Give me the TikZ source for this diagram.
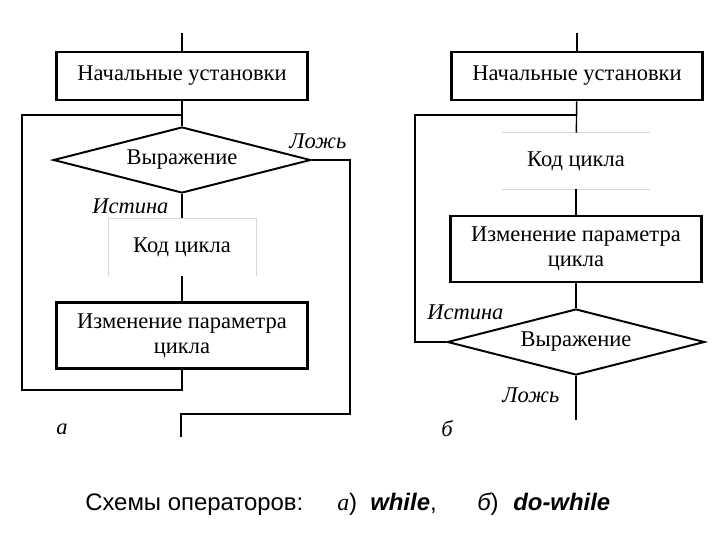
\documentclass[tikz,border=0pt]{standalone}
\usepackage{fontspec}
\setmainfont{Liberation Serif}
\setsansfont{Liberation Sans}
\definecolor{scangray}{RGB}{215, 215, 215}
\usetikzlibrary{shapes.geometric, positioning}

\begin{document}
\begin{tikzpicture}[x=0.025cm, y=-0.025cm,
  box/.style={draw, line width=2pt, minimum width=6.27cm, inner sep=0pt, align=center, font={\fontsize{16}{18}\selectfont}},
  cond/.style={draw, diamond, line width=1.4pt, minimum width=6.43cm, minimum height=1.65cm, aspect=3.9, inner sep=0pt, font={\fontsize{16}{18}\selectfont}},
  code/.style={inner sep=0pt, minimum width=3.68cm, align=center, font={\fontsize{16}{18}\selectfont}},
  lbl/.style={inner sep=0pt, font={\fontsize{16}{18}\selectfont\itshape}},
  capt/.style={inner sep=0pt, font={\fontsize{17}{20}\selectfont\sffamily}},
  flow/.style={line width=1pt}]
  \useasboundingbox (0,0) rectangle (720,540);

  % a) while
  \coordinate (topA) at (182,33);
  \node[box, minimum height=1.2cm] (initA) at (182,76) {Начальные установки};
  \coordinate (joinA) at (182,115);
  \node[cond] (condA) at (182,160) {Выражение};
  \node[lbl, anchor=west] (falseA) at (289,141) {Ложь};
  \node[lbl, anchor=west] (trueA) at (92,206) {Истина};
  \node[code, minimum height=1.43cm] (codeA) at (182,247) {Код цикла};
  \node[box, minimum height=1.63cm] (changeA) at (182,335.5) {Изменение параметра\\цикла};
  \coordinate (cornerA) at (22,390);
  \coordinate (cornerRA) at (350,414);
  \coordinate (endA) at (181,437);
  \node[lbl, anchor=west] (nameA) at (56,429) {а};

  \draw[scangray] (codeA.south west) -- (codeA.north west) -- (codeA.north east) -- (codeA.south east);
  \draw[flow] (topA) -- (initA);
  \draw[flow] (initA) -- (condA);
  \draw[flow] (condA) -- (codeA);
  \draw[flow] (codeA) -- (changeA);
  \draw[flow] (changeA) |- (cornerA) |- (joinA);
  \draw[flow, line width=1.5pt] (condA.east) -| (cornerRA) -| (endA);

  % b) do-while
  \coordinate (topB) at (577,33);
  \node[box, minimum height=1.2cm] (initB) at (577,76) {Начальные установки};
  \coordinate (joinB) at (577,115);
  \node[code, minimum height=1.4cm] (codeB) at (576,161) {Код цикла};
  \node[box, minimum height=1.65cm] (changeB) at (576,249) {Изменение параметра\\цикла};
  \node[cond] (condB) at (576,342) {Выражение};
  \node[lbl, anchor=west] (trueB) at (427,312) {Истина};
  \node[lbl, anchor=west] (falseB) at (502,395) {Ложь};
  \coordinate (cornerB) at (415,342);
  \coordinate (endB) at (576,420);
  \node[lbl, anchor=west] (nameB) at (441,429) {б};

  \draw[scangray] (codeB.north west) -- (codeB.north east);
  \draw[scangray] (codeB.south west) -- (codeB.south east);
  \draw[flow] (topB) -- (initB);
  \draw[flow] (initB) -- (codeB);
  \draw[flow] (codeB) -- (changeB);
  \draw[flow] (changeB) -- (condB);
  \draw[flow] (condB.west) -- (cornerB) |- (joinB);
  \draw[flow] (condB) -- (endB);

  % caption
  \node[capt, anchor=base west] (captTitle) at (85,510) {Схемы операторов:};
  \node[capt, anchor=base west] (captA) at (337,510) {{\rmfamily\itshape а})};
  \node[capt, anchor=base west] (captWhile) at (370,510) {\bfseries\itshape while\mdseries\upshape,};
  \node[capt, anchor=base west] (captB) at (477,510) {\itshape б\upshape)};
  \node[capt, anchor=base west] (captDo) at (513,510) {\bfseries\itshape do-while};
\end{tikzpicture}
\end{document}
